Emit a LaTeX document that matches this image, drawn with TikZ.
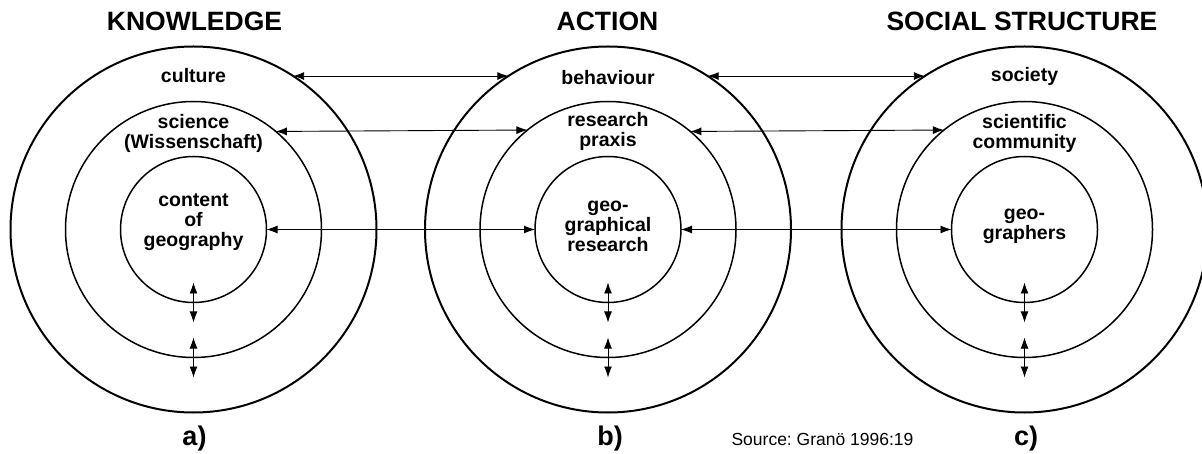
\documentclass[tikz,border=0pt]{standalone}
\usepackage{fontspec}
\setmainfont{Liberation Sans}
\usetikzlibrary{arrows.meta}
\frenchspacing
\begin{document}
\begin{tikzpicture}[x=1pt,y=-1pt,
  ring/.style={circle,draw,inner sep=0pt,outer sep=0pt,minimum size=#1},
  outerring/.style={ring=366pt,line width=2pt},
  midring/.style={ring=256pt,line width=1.5pt},
  innerring/.style={ring=146pt,line width=1.5pt},
  dbl/.style={{Latex[length=11pt,width=8pt]}-{Latex[length=11pt,width=8pt]},line width=0.9pt},
  head/.style={font=\fontsize{26.5}{30}\selectfont\bfseries,inner sep=0pt},
  lbl/.style={font=\fontsize{19.5}{20}\selectfont\bfseries,align=center,inner sep=0pt},
  tag/.style={font=\fontsize{27}{30}\selectfont\bfseries,inner sep=0pt},
  src/.style={font=\fontsize{17.5}{20}\selectfont,inner sep=0pt}]
\useasboundingbox (0,0) rectangle (1202,454);
\clip (0,0) rectangle (1202,454);
% circles
\node[outerring] (A1) at (193.5,229.5) {};
\node[midring]   (A2) at (193.5,229.5) {};
\node[innerring] (A3) at (193.5,229.5) {};
\node[outerring] (B1) at (608,229.5) {};
\node[midring]   (B2) at (608,229.5) {};
\node[innerring] (B3) at (608,229.5) {};
\node[outerring] (C1) at (1024.5,229.5) {};
\node[midring]   (C2) at (1024.5,229.5) {};
\node[innerring] (C3) at (1024.5,229.5) {};
% headings
\node[head] (hA) at (194.5,21) {KNOWLEDGE};
\node[head] (hB) at (607.5,21) {ACTION};
\node[head] (hC) at (1022,21) {SOCIAL STRUCTURE};
% labels
\node[lbl] (lA1) at (193.5,76) {culture};
\node[lbl] (lA2) at (193.5,133) {science\\(Wissenschaft)};
\node[lbl] (lA3) at (193.5,222) {content\\of\\geography};
\node[lbl] (lB1) at (608,78) {behaviour};
\node[lbl] (lB2) at (608,131.5) {research\\praxis};
\node[lbl] (lB3) at (608,226) {geo-\\graphical\\research};
\node[lbl] (lC1) at (1024.5,76.5) {society};
\node[lbl] (lC2) at (1024.5,133.5) {scientific\\community};
\node[lbl] (lC3) at (1024.5,226.5) {geo-\\graphers};
% tags
\node[tag] (ta) at (194.5,439) {a)};
\node[tag] (tb) at (610,439) {b)};
\node[tag] (tc) at (1026,439) {c)};
\node[src] (so) at (822.5,439.5) {Source: Granö 1996:19};
% horizontal arrows
\draw[dbl] (A1.57) -- (B1.123);
\draw[dbl] (A2.50.3) -- (B2.129.7);
\draw[dbl] (A3.0) -- (B3.180);
\draw[dbl] (B1.57) -- (C1.123);
\draw[dbl] (B2.50.3) -- (C2.129.7);
\draw[dbl] (B3.0) -- (C3.180);
% vertical arrows
\foreach \s in {A,B,C}{
  \draw[dbl] ([yshift=20pt]\s3.south) -- ([yshift=-20pt]\s3.south);
  \draw[dbl] ([yshift=20pt]\s2.south) -- ([yshift=-20pt]\s2.south);
}
\end{tikzpicture}
\end{document}
